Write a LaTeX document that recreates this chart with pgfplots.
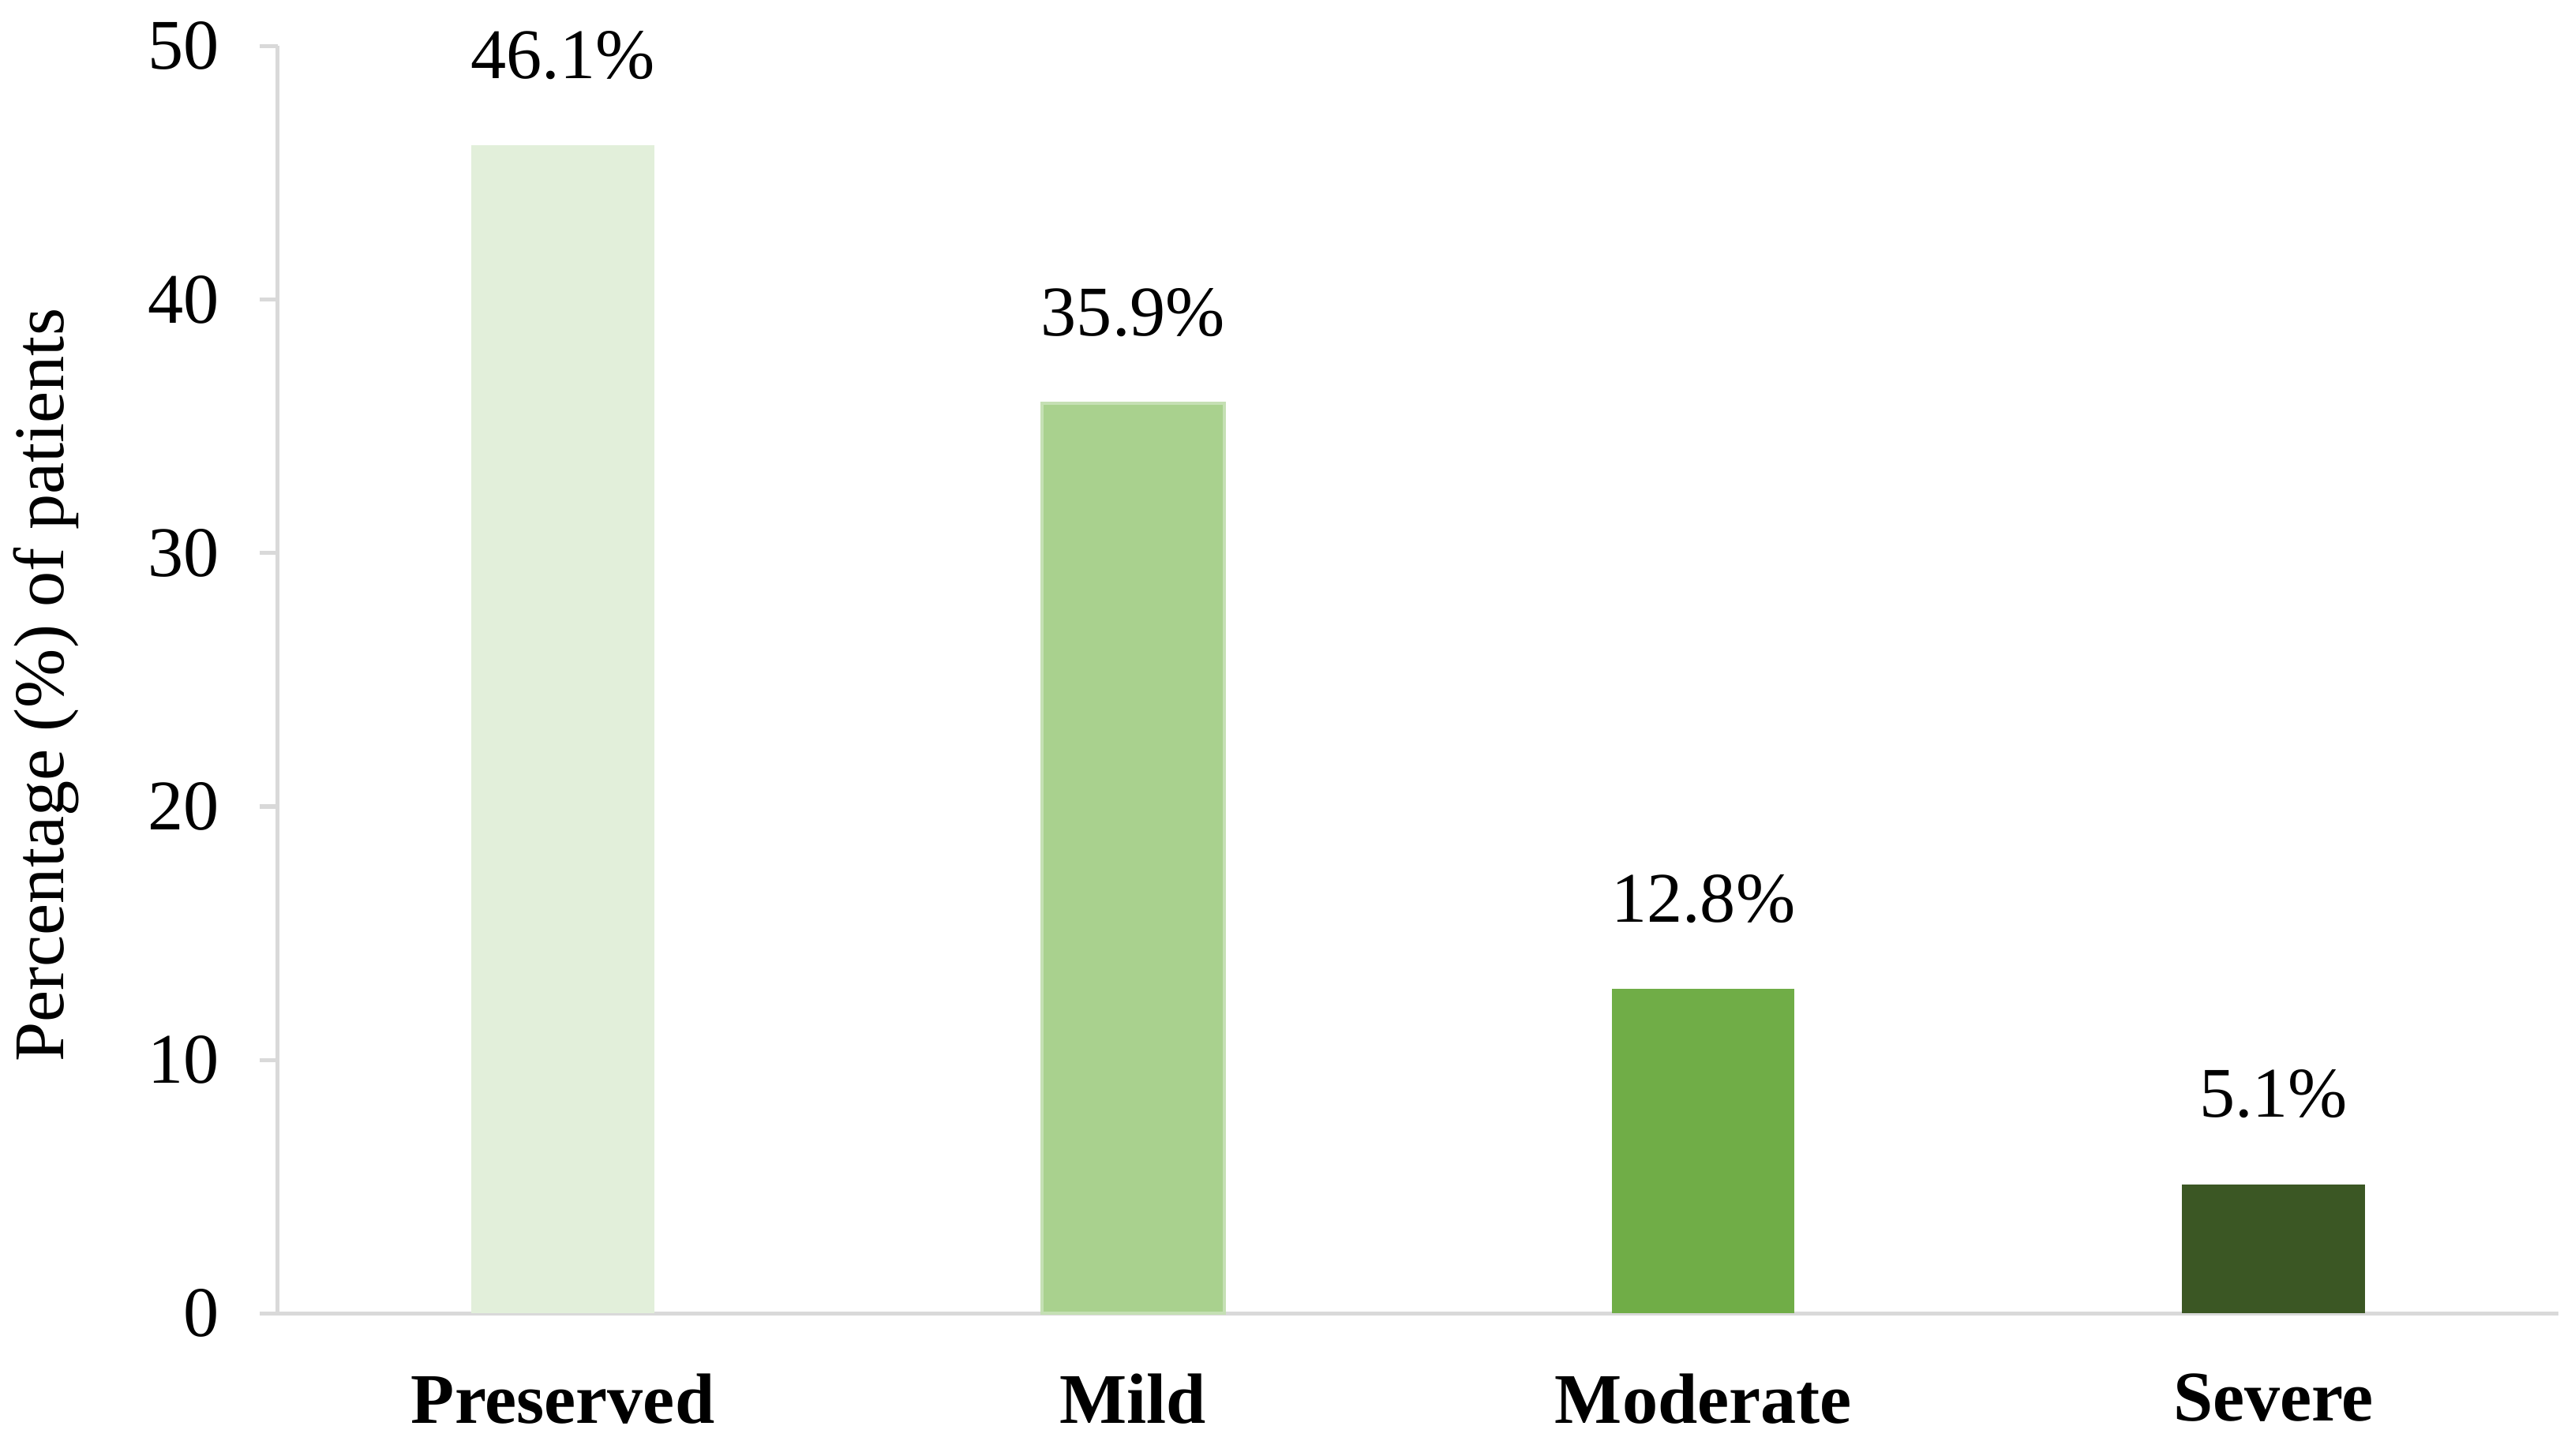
\documentclass[border=0pt]{standalone}
\usepackage{pgfplots}
\pgfplotsset{compat=1.18}
\usepackage{fontspec}
\setmainfont{Liberation Serif}
\definecolor{cPres}{HTML}{E2EFDA}
\definecolor{cMild}{HTML}{A9D18E}
\definecolor{cMildE}{HTML}{C5E0B4}
\definecolor{cMod}{HTML}{70AD47}
\definecolor{cSev}{HTML}{3B5724}
\definecolor{axgray}{HTML}{D9D9D9}
\begin{document}
\begin{tikzpicture}[font=\fontsize{13}{15.6}\selectfont]
\begin{axis}[
  at={(0,0)}, anchor=south west,
  scale only axis,
  width=416.3pt, height=231.4pt,
  xmin=-0.5, xmax=3.5,
  ymin=0, ymax=50,
  ytick={0,10,20,30,40,50},
  xtick={0,1,2,3},
  xticklabels={Preserved,Mild,Moderate,Severe},
  axis x line*=bottom,
  axis y line*=left,
  axis line style={draw=axgray, line width=0.75pt},
  every tick/.style={draw=axgray, line width=0.75pt},
  major tick length=3.3pt,
  ytick align=outside,
  xtick align=inside,
  x tick style={draw=none},
  /pgf/number format/assume math mode=true,
  yticklabel style={anchor=east, inner sep=0pt, xshift=-7.2pt, font=\fontsize{13}{15.6}\selectfont},
  xticklabel style={anchor=north, inner sep=0pt, yshift=-7.5pt, font=\fontsize{13}{15.6}\selectfont\bfseries},
  ylabel={Percentage (\%) of patients},
  ylabel style={at={(axis description cs:-0.1016,0.4957)}, anchor=center, font=\fontsize{13}{15.6}\selectfont},
  ybar, bar width=0.32, bar shift=0pt,
  nodes near coords={\pgfmathprintnumber[fixed,precision=1,fixed zerofill]{\pgfplotspointmeta}\%},
  every node near coord/.append style={text=black, anchor=south, inner sep=0pt, yshift=11.8pt, font=\fontsize{13}{15.6}\selectfont},
  clip=false,
]
\addplot[fill=cPres, draw=none] coordinates {(0,46.1)};
\addplot[fill=cMild, draw=cMildE, line width=0.6pt] coordinates {(1,35.9)};
\addplot[fill=cMod, draw=none] coordinates {(2,12.8)};
\addplot[fill=cSev, draw=none] coordinates {(3,5.1)};
\end{axis}
\pgfresetboundingbox
\path[use as bounding box] ([xshift=-50.7pt,yshift=-25.9pt]current axis.south west) rectangle ([xshift=3pt,yshift=8.4pt]current axis.north east);
\end{tikzpicture}
\end{document}
